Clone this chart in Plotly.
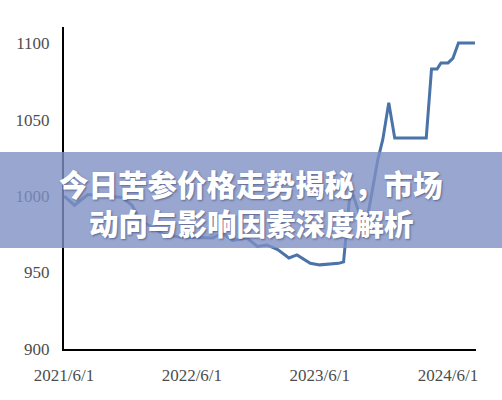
import plotly.graph_objects as go

# price readings
dates = [
    "2021-06-01", "2021-07-01", "2021-08-08", "2021-11-15", "2021-12-12",
    "2022-01-05", "2022-02-20", "2022-03-10", "2022-05-01", "2022-08-01",
    "2022-08-25", "2022-09-25", "2022-11-05", "2022-12-05", "2023-01-01",
    "2023-02-01", "2023-03-05", "2023-03-28", "2023-05-05", "2023-06-01",
    "2023-07-25", "2023-08-08", "2023-08-28", "2023-10-08", "2023-11-14",
    "2023-11-20", "2023-11-28", "2023-12-15", "2024-01-01", "2024-03-31",
    "2024-04-15", "2024-05-01", "2024-05-12", "2024-06-01", "2024-06-15",
    "2024-07-01", "2024-08-17",
]
prices = [
    1000, 994, 1001, 999, 994,
    984, 978, 975, 973, 972.5,
    976, 971, 972.5, 967, 968,
    965, 959.5, 961.5, 956, 955,
    956, 957, 1006, 977, 1024,
    1030, 1037, 1061, 1038, 1038,
    1083, 1083, 1087, 1087, 1090,
    1100, 1100,
]

x_tickvals = ["2021-06-01", "2022-06-01", "2023-06-01", "2024-06-01"]
x_ticktext = ["2021/6/1", "2022/6/1", "2023/6/1", "2024/6/1"]
y_tickvals = [900, 950, 1000, 1050, 1100]

title_lines = ["今日苦参价格走势揭秘，市场", "动向与影响因素深度解析"]

fig = go.Figure(
    go.Scatter(
        x=dates,
        y=prices,
        mode="lines",
        line=dict(color="#4a73a8", width=3),
        hoverinfo="skip",
    )
)

axis_font = dict(family="Liberation Serif", size=17, color="#4d4d4d")

fig.update_xaxes(
    range=["2021-06-01", "2024-08-20"],
    tickvals=x_tickvals,
    ticktext=x_ticktext,
    showgrid=False,
    zeroline=False,
    showline=True,
    linecolor="black",
    linewidth=2,
    ticks="outside",
    ticklen=10,
    tickcolor="rgba(0,0,0,0)",
    tickfont=axis_font,
)
fig.update_yaxes(
    range=[900, 1110.5],
    tickvals=y_tickvals,
    showgrid=False,
    zeroline=False,
    showline=True,
    linecolor="black",
    linewidth=2,
    ticks="outside",
    ticklen=9,
    tickcolor="rgba(0,0,0,0)",
    tickfont=axis_font,
)

# translucent banner over the middle of the chart
fig.add_shape(
    type="rect",
    xref="paper",
    yref="paper",
    x0=-0.2,
    x1=1.2,
    y0=0.3137,
    y1=0.6118,
    fillcolor="rgba(126,144,196,0.8)",
    line=dict(width=0),
    layer="above",
)

title_font = dict(
    family="Noto Sans CJK SC, sans-serif",
    size=29.5,
    color="white",
    weight=900,
    shadow="1px 1px 2px rgba(40,50,90,0.55)",
)
for text, ypos in zip(title_lines, [0.5155, 0.394]):
    fig.add_annotation(
        text=text,
        xref="paper",
        yref="paper",
        x=0.454,
        y=ypos,
        xanchor="center",
        yanchor="middle",
        showarrow=False,
        font=title_font,
    )

fig.update_layout(
    width=502,
    height=400,
    margin=dict(l=64, r=26, t=27, b=51),
    paper_bgcolor="white",
    plot_bgcolor="white",
    showlegend=False,
)

# drop the browser's default body margin so the figure sits at the page corner
fig.write_html(
    "out.html",
    config={"displayModeBar": False},
    post_script="document.body.style.margin='0';",
)
